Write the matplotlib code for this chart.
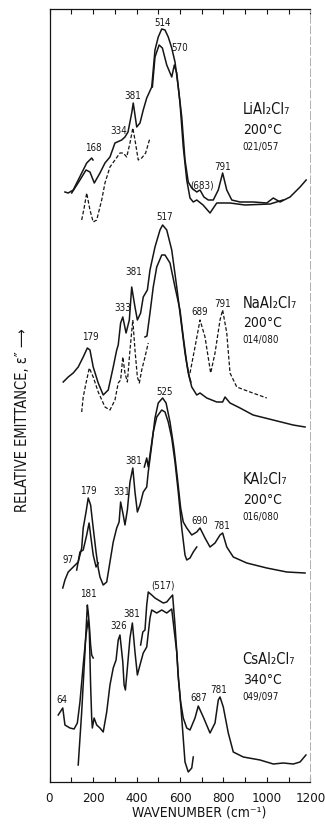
"""Emission spectra of MAl2Cl7 melts (M = Li, Na, K, Cs), stacked."""

import matplotlib

matplotlib.use("Agg")
import matplotlib.pyplot as plt  # noqa: E402
from matplotlib.ticker import MultipleLocator  # noqa: E402

plt.rcParams["font.family"] = ["DejaVu Sans"]
plt.rcParams["font.stretch"] = "condensed"

# ---- LiAl2Cl7, 200 C ----
li_edge_wn = [71, 86, 109, 132, 155, 171, 194, 200]
li_edge_e = [590, 589, 592, 602, 612, 619, 624, 622]
li_main_wn = [102, 140, 168, 186, 206, 232, 255, 278, 301, 332, 347, 361, 378, 385, 401,
              416, 431, 447, 470, 485, 500, 516, 531, 546, 562, 577, 592, 608, 623, 638,
              654, 677, 692, 710, 730, 753, 776, 796, 815, 838, 876, 937, 999, 1029, 1060,
              1106, 1129, 1152, 1180]
li_main_e = [589, 602, 612, 610, 599, 609, 619, 625, 639, 642, 645, 650, 669, 679, 655,
             659, 672, 684, 695, 732, 745, 753, 752, 745, 734, 720, 695, 665, 622, 600,
             594, 590, 592, 585, 582, 582, 592, 609, 592, 582, 580, 580, 579, 584, 580,
             585, 590, 595, 602]
li_dash_wn = [148, 160, 171, 186, 201, 217, 240, 255, 278, 301, 324, 339, 355, 370, 383,
              393, 408, 424, 442, 462]
li_dash_e = [562, 575, 589, 572, 560, 562, 582, 599, 615, 622, 629, 629, 625, 639, 654,
             642, 622, 624, 629, 644]
li_low_wn = [473, 485, 504, 519, 539, 562, 574, 585, 600, 615, 631, 646, 661, 677, 706,
             738, 769, 830, 899, 1014, 1074]
li_low_e = [695, 725, 737, 734, 717, 705, 717, 709, 679, 635, 602, 584, 580, 582, 577,
            569, 579, 579, 577, 578, 582]

# ---- NaAl2Cl7, 200 C ----
na_main_wn = [63, 86, 109, 132, 155, 174, 186, 201, 224, 247, 270, 293, 309, 316, 327,
              337, 352, 367, 378, 393, 404, 419, 431, 450, 462, 485, 508, 520, 539, 562,
              585, 608, 623, 638, 654, 677, 692, 723, 769, 796, 807, 830, 876, 936, 1028,
              1120, 1175]
na_main_e = [400, 405, 409, 415, 425, 434, 432, 415, 399, 387, 392, 415, 432, 437, 459,
             465, 449, 462, 495, 475, 462, 469, 485, 492, 512, 535, 552, 557, 552, 532,
             495, 455, 429, 409, 395, 387, 389, 384, 380, 380, 385, 379, 374, 367, 362,
             357, 355]
na_dash_wn = [148, 155, 168, 183, 201, 224, 255, 278, 301, 316, 327, 337, 347, 358, 370,
              383, 393, 404, 413, 424, 439, 454]
na_dash_e = [370, 385, 399, 414, 405, 390, 375, 372, 382, 399, 402, 425, 409, 400, 432,
             462, 432, 405, 399, 412, 425, 439]
na_low_wn = [439, 448, 462, 477, 493, 516, 531, 554, 577, 600, 615, 631, 643, 650]
na_low_e = [445, 446, 469, 495, 515, 527, 527, 519, 495, 472, 445, 419, 405, 400]
na_tail_wn = [646, 669, 692, 715, 741, 761, 784, 796, 815, 830, 861, 922, 999]
na_tail_e = [409, 435, 462, 445, 409, 429, 462, 472, 449, 409, 395, 390, 384]

# ---- KAl2Cl7, 200 C ----
k_main_wn = [61, 71, 86, 109, 132, 148, 155, 168, 178, 189, 201, 214, 224, 232, 247,
             263, 278, 293, 309, 320, 327, 339, 347, 358, 370, 383, 393, 404, 416, 431,
             447, 454, 470, 485, 500, 520, 536, 554, 572, 588, 603, 615, 631, 654, 677,
             692, 715, 738, 761, 784, 796, 815, 845, 907, 999, 1091, 1175]
k_main_e = [194, 202, 210, 215, 220, 234, 254, 270, 284, 277, 254, 230, 214, 205, 197,
            200, 220, 240, 254, 260, 280, 267, 257, 272, 300, 314, 290, 270, 277, 290,
            295, 310, 337, 364, 379, 384, 379, 360, 334, 304, 274, 260, 254, 247, 250,
            254, 244, 235, 239, 247, 249, 235, 225, 219, 214, 210, 209]
k_short_wn = [125, 140, 155, 171, 182, 189, 201, 214, 224]
k_short_e = [212, 230, 232, 247, 259, 247, 227, 215, 219]
k_low_wn = [436, 447, 454, 462, 477, 493, 516, 531, 546, 562, 577, 592, 608, 623, 631,
            646, 661, 677]
k_low_e = [315, 324, 315, 327, 350, 365, 372, 370, 360, 344, 320, 290, 254, 227, 222,
           224, 230, 235]

# ---- CsAl2Cl7, 340 C ----
cs_main_wn = [40, 61, 71, 94, 113, 128, 140, 155, 168, 178, 183, 189, 194, 197, 205,
              217, 232, 247, 263, 278, 293, 306, 316, 324, 337, 343, 349, 358, 370, 381,
              393, 404, 416, 431, 447, 462, 470, 493, 516, 539, 562, 572, 585, 592, 603,
              615, 631, 646, 669, 684, 707, 738, 761, 776, 784, 799, 822, 845, 891, 968,
              1029, 1075, 1121, 1152, 1179]
cs_main_e = [67, 74, 57, 54, 53, 59, 80, 117, 147, 162, 152, 97, 64, 54, 64,
             57, 54, 50, 70, 97, 114, 122, 142, 147, 120, 97, 92, 114, 144, 159,
             130, 107, 117, 129, 135, 164, 172, 169, 172, 169, 173, 154, 130, 104, 80,
             64, 54, 52, 64, 76, 65, 49, 59, 82, 85, 75, 49, 30, 25, 22,
             18, 19, 18, 20, 27]
cs_spike_wn = [132, 148, 163, 174, 178, 183, 189, 194, 201]
cs_spike_e = [17, 70, 130, 177, 170, 157, 137, 127, 124]
cs_top_wn = [419, 429, 439, 447, 454, 470, 485, 500, 523, 539, 554, 566, 577, 592, 608,
             623, 638, 654, 661]
cs_top_e = [137, 150, 152, 177, 190, 187, 184, 182, 179, 180, 184, 187, 157, 107, 64,
            20, 10, 14, 25]

# peak labels: text, wavenumber, height
li_peaks = [("514", 522, 759), ("570", 600, 734), ("381", 383, 686), ("334", 320, 651),
            ("168", 200, 634), ("(683)", 702, 596), ("791", 796, 615)]
na_peaks = [("517", 531, 565), ("381", 385, 510), ("333", 335, 474), ("179", 186, 445),
            ("689", 692, 470), ("791", 796, 478)]
k_peaks = [("525", 531, 390), ("381", 385, 321), ("331", 332, 290), ("179", 178, 291),
           ("97", 86, 222), ("690", 692, 261), ("781", 792, 256)]
cs_peaks = [("(517)", 523, 197), ("181", 178, 188), ("326", 320, 156), ("381", 378, 168),
            ("64", 56, 82), ("687", 684, 84), ("781", 776, 92)]

samples = [("LiAl₂Cl₇", "200°C", "021/057", 672),
           ("NaAl₂Cl₇", "200°C", "014/080", 479),
           ("KAl₂Cl₇", "200°C", "016/080", 302),
           ("CsAl₂Cl₇", "340°C", "049/097", 122)]

INK = "#151515"

fig = plt.figure(figsize=(3.25, 8.24), dpi=100)
ax = fig.add_axes([49.5 / 325, 42 / 824, 261 / 325, 773 / 824])

solid = [(li_edge_wn, li_edge_e), (li_main_wn, li_main_e), (li_low_wn, li_low_e),
         (na_main_wn, na_main_e), (na_low_wn, na_low_e),
         (k_main_wn, k_main_e), (k_short_wn, k_short_e), (k_low_wn, k_low_e),
         (cs_main_wn, cs_main_e), (cs_spike_wn, cs_spike_e), (cs_top_wn, cs_top_e)]
dashed = [(li_dash_wn, li_dash_e), (na_dash_wn, na_dash_e), (na_tail_wn, na_tail_e)]

for x, y in solid:
    ax.plot(x, y, color=INK, lw=1.1, solid_joinstyle="round")
for x, y in dashed:
    ax.plot(x, y, color=INK, lw=0.9, dashes=(3, 1.6))

for peaks in (li_peaks, na_peaks, k_peaks, cs_peaks):
    for txt, x, y in peaks:
        ax.text(x, y, txt, fontsize=7, ha="center", va="center", color=INK)

for name, temp, code, y in samples:
    ax.text(888, y, name, fontsize=10.5, ha="left", va="center", color=INK)
    ax.text(888, y - 20, temp, fontsize=10, ha="left", va="center", color=INK)
    ax.text(888, y - 37, code, fontsize=7, ha="left", va="center", color=INK)

ax.set_xlim(0, 1200)
ax.set_ylim(0, 773)
ax.xaxis.set_major_locator(MultipleLocator(200))
ax.xaxis.set_minor_locator(MultipleLocator(100))
ax.tick_params(axis="x", which="both", direction="in", top=True, length=3.5, width=0.8,
               labelsize=9.5, pad=7, colors=INK)
ax.tick_params(axis="y", left=False, labelleft=False)
for side in ("left", "top", "bottom"):
    ax.spines[side].set_color(INK)
    ax.spines[side].set_linewidth(0.9)
ax.spines["right"].set_color("#b0b0b0")
ax.spines["right"].set_linewidth(0.7)
ax.spines["right"].set_linestyle((0, (8, 3)))

fig.text(199 / 325, 1 - 812 / 824, "WAVENUMBER (cm⁻¹)", fontsize=10, ha="center",
         va="center", color=INK)
fig.text(23 / 325, 1 - 420 / 824, "RELATIVE EMITTANCE, ε″ ⟶", fontsize=10.5, rotation=90,
         ha="center", va="center", color=INK)

fig.savefig("out.png", dpi=100, facecolor="white")
